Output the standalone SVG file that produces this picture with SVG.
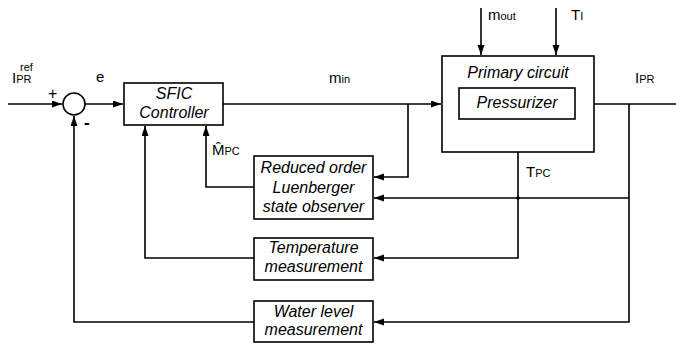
<svg xmlns="http://www.w3.org/2000/svg" width="676" height="344" viewBox="0 0 676 344">
<style>
.box{fill:#fff;stroke:#000;stroke-width:1.6}
.ln{fill:none;stroke:#000;stroke-width:1.6}
.bt{font-family:"Liberation Sans",Arial,sans-serif;font-style:italic;font-size:16px;fill:#000;text-anchor:middle}
.lb{font-family:"Liberation Sans",Arial,sans-serif;font-size:15px;fill:#000}
.sb{font-size:11px}
</style>
<defs>
<marker id="ah" markerUnits="userSpaceOnUse" markerWidth="11" markerHeight="8" refX="10" refY="3.5" orient="auto">
<path d="M0,0 L10,3.5 L0,7 z" fill="#000"/>
</marker>
</defs>
<rect width="676" height="344" fill="#fff"/>
<g id="connectors">
<path class="ln" d="M8,104 H62" marker-end="url(#ah)"/>
<path class="ln" d="M85,104 H123" marker-end="url(#ah)"/>
<path class="ln" d="M223,104 H441" marker-end="url(#ah)"/>
<path class="ln" d="M408,104 V177 H374" marker-end="url(#ah)"/>
<path class="ln" d="M481,8 V55" marker-end="url(#ah)"/>
<path class="ln" d="M556,8 V55" marker-end="url(#ah)"/>
<path class="ln" d="M575,104 H676"/>
<path class="ln" d="M629,104 V322 H374" marker-end="url(#ah)"/>
<path class="ln" d="M629,198 H374" marker-end="url(#ah)"/>
<path class="ln" d="M518,152 V258 H374" marker-end="url(#ah)"/>
<circle cx="518" cy="198" r="1.8" fill="#000"/>
<path class="ln" d="M254,187 H206 V126" marker-end="url(#ah)"/>
<path class="ln" d="M254,258 H145 V126" marker-end="url(#ah)"/>
<path class="ln" d="M254,322 H74 V116" marker-end="url(#ah)"/>
</g>
<g id="sum">
<circle cx="74" cy="104" r="11" fill="#fff" stroke="#000" stroke-width="1.6"/>
<text class="lb" x="48" y="99" style="font-size:16px">+</text>
<text class="lb" x="84" y="128" style="font-size:17px;font-weight:bold">-</text>
</g>
<g id="labels">
<text class="lb" x="12" y="83">I<tspan class="sb">PR</tspan></text>
<text class="lb sb" x="20" y="71">ref</text>
<text class="lb" x="96" y="82">e</text>
<text class="lb" x="329" y="83">m<tspan class="sb">in</tspan></text>
<text class="lb" x="488" y="20">m<tspan class="sb">out</tspan></text>
<text class="lb" x="571" y="20">T<tspan class="sb">I</tspan></text>
<text class="lb" x="635" y="83">I<tspan class="sb">PR</tspan></text>
<text class="lb" x="526" y="177">T<tspan class="sb">PC</tspan></text>
<text class="lb" x="212" y="155">M&#770;<tspan class="sb">PC</tspan></text>
</g>
<g id="sfic">
<rect class="box" x="124" y="83" width="99" height="42"/>
<text class="bt" x="174" y="99">SFIC</text>
<text class="bt" x="174" y="118">Controller</text>
</g>
<g id="primary">
<rect class="box" x="442" y="56" width="152" height="96"/>
<text class="bt" x="518" y="78">Primary circuit</text>
</g>
<g id="pressurizer">
<rect class="box" x="459" y="88" width="116" height="31"/>
<text class="bt" x="517" y="108">Pressurizer</text>
</g>
<g id="observer">
<rect class="box" x="254" y="156" width="119" height="63"/>
<text class="bt" x="313.5" y="173">Reduced order</text>
<text class="bt" x="313.5" y="193">Luenberger</text>
<text class="bt" x="313.5" y="212">state observer</text>
</g>
<g id="temperature">
<rect class="box" x="254" y="238" width="119" height="42"/>
<text class="bt" x="313.5" y="253">Temperature</text>
<text class="bt" x="313.5" y="272">measurement</text>
</g>
<g id="waterlevel">
<rect class="box" x="254" y="301" width="119" height="41"/>
<text class="bt" x="313.5" y="317">Water level</text>
<text class="bt" x="313.5" y="335">measurement</text>
</g>
</svg>
